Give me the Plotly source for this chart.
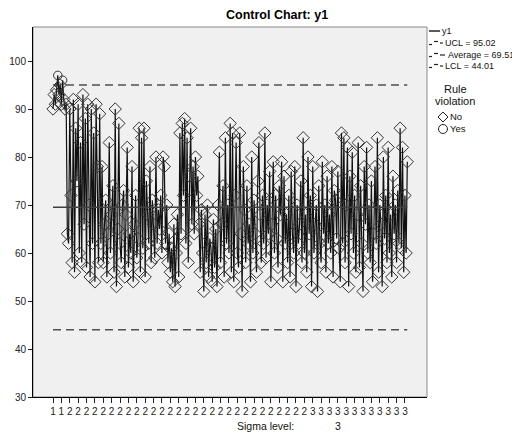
import plotly.graph_objects as go

# ---- data ----
phase1 = [90, 93, 91, 94, 97, 93, 95, 91, 96, 92, 90]
seg_b = [91, 64, 62, 90, 72, 58, 92, 56, 86, 75, 91, 60, 83, 58, 93, 66, 88, 57, 91, 70,
         55, 90, 62, 85, 54, 91, 78, 58, 89]
seg_c = [62, 78, 58, 66, 71, 55, 64, 83, 60, 68, 74, 56, 90, 53, 65, 87, 62, 58, 70, 73,
         55, 68, 82, 57, 64, 60, 78, 54, 66, 72, 59, 63, 86, 56, 84, 61, 86, 55, 75, 68,
         62, 78, 58, 71, 66, 59, 80, 62, 69, 65, 72, 60, 80]
seg_d = [78, 62, 70, 58, 64, 56, 61, 54, 66, 53, 60, 68, 55, 85, 64, 87, 72, 88, 62, 84,
         58, 76, 86, 66, 78, 64, 80, 72, 76]
seg_e = [66, 56, 69, 60, 52, 68, 58, 70, 55, 63, 61, 54, 67, 57, 65, 53, 70]
seg_f = [81, 58, 66, 74, 55, 84, 62, 70, 60, 87, 56, 85, 54, 72, 83, 60, 57, 85, 64, 52,
         78, 69, 58, 74, 62, 66, 54, 80, 60, 71, 64, 56, 75, 83, 68, 58, 72, 62, 85, 59,
         70, 64, 77, 54, 66, 79, 60, 72, 63, 57, 74, 68, 79]
seg_g = [54, 76, 62, 68, 58, 72, 55, 77, 64, 60, 78, 53, 70, 62, 66, 75, 58, 84, 60, 68,
         56, 80, 64, 72, 53, 78, 60, 66, 70, 52, 74, 62, 58, 79, 64, 70, 56, 76, 62, 68,
         60, 78, 55, 73, 71, 63, 77, 61]
seg_h = [54, 85, 62, 84, 58, 70, 82, 53, 76, 64, 81, 60, 72, 56, 68, 83, 57, 74, 62, 52,
         78, 66, 82, 60, 70, 58, 75, 54, 64, 78, 62, 84, 56, 70, 66, 53, 80, 63, 72, 58,
         82, 60, 68, 55, 76, 64, 70, 58, 73, 62, 86, 61, 82, 56, 72, 60, 79]

y1 = phase1 + seg_b + seg_c + seg_d + seg_e + seg_f + seg_g + seg_h
n = len(y1)
x_idx = list(range(1, n + 1))

phase_start_2 = 12
phase_start_3 = 215
phase = [1 if i < phase_start_2 else (2 if i < phase_start_3 else 3) for i in x_idx]

UCL = 95.02
AVG = 69.51
LCL = 44.01
sigma_level = 3

tick_step = 7
tick_vals = [i for i in x_idx if (i - 1) % tick_step == 0]
tick_text = [str(phase[i - 1]) for i in tick_vals]
y_ticks = [30, 40, 50, 60, 70, 80, 90, 100]

# ---- geometry helpers (absolute page pixel -> paper) ----
OFF = 8  # browser body margin
L, R, T, B = 33, 427, 27, 397
W, H = 520, 439
def px(x):
    return (x - L) / (R - L)
def py(y):
    return (B - y) / (B - T)

FONT = "Arial, Liberation Sans, sans-serif"

viol = [v > UCL or v < LCL for v in y1]
xn = [x for x, v in zip(x_idx, viol) if not v]
yn = [y for y, v in zip(y1, viol) if not v]
xy = [x for x, v in zip(x_idx, viol) if v]
yy = [y for y, v in zip(y1, viol) if v]

fig = go.Figure()
fig.add_trace(go.Scatter(x=[1, n], y=[UCL, UCL], mode="lines",
                         line=dict(color="#505050", width=1.5, dash="8px,5px"), showlegend=False))
fig.add_trace(go.Scatter(x=[1, n], y=[LCL, LCL], mode="lines",
                         line=dict(color="#505050", width=1.5, dash="8px,5px"), showlegend=False))
fig.add_trace(go.Scatter(x=x_idx, y=y1, mode="lines",
                         line=dict(color="#111111", width=1.2), showlegend=False))
fig.add_trace(go.Scatter(x=xn, y=yn, mode="markers",
                         marker=dict(symbol="diamond-open", size=9.5, color="#333333",
                                     line=dict(width=1)), showlegend=False))
fig.add_trace(go.Scatter(x=xy, y=yy, mode="markers",
                         marker=dict(symbol="circle-open", size=8.5, color="#333333",
                                     line=dict(width=1)), showlegend=False))
fig.add_trace(go.Scatter(x=[1, n], y=[AVG, AVG], mode="lines",
                         line=dict(color="#404040", width=1.5), showlegend=False))

shapes = []
annotations = []

shapes.append(dict(type="rect", xref="paper", yref="paper", x0=0, x1=1, y0=0, y1=1,
                   line=dict(color="#8a8a8a", width=1), layer="below"))

def seg(x0, x1, y0, y1_, w=1.2, color="#222"):
    shapes.append(dict(type="line", xref="paper", yref="paper",
                       x0=px(x0), x1=px(x1), y0=py(y0), y1=py(y1_),
                       line=dict(color=color, width=w)))

def txt(x, y, s, size=9, anchor="left"):
    annotations.append(dict(x=px(x), y=py(y), xref="paper", yref="paper", text=s,
                            showarrow=False, xanchor=anchor, yanchor="middle",
                            font=dict(family=FONT, size=size, color="#111")))

seg(429, 440, 31, 31, w=1.5)
txt(440, 31, "y1")
rows = [("UCL = %.2f" % UCL, 43, 443), ("Average = %.2f" % AVG, 55, 446), ("LCL = %.2f" % LCL, 66, 443)]
for label, yrow, xt in rows:
    seg(429, 432, yrow + 1.5, yrow + 1.5)
    seg(434, 438, yrow - 1.5, yrow - 1.5)
    seg(440, 443 if xt == 443 else 445, yrow, yrow)
    txt(xt, yrow, label)

txt(455, 89, "Rule", size=11, anchor="center")
txt(455, 101, "violation", size=11, anchor="center")
dx, dy = 443, 117
shapes.append(dict(type="path", xref="paper", yref="paper",
                   path="M %f %f L %f %f L %f %f L %f %f Z" % (
                       px(dx - 5), py(dy), px(dx), py(dy - 5), px(dx + 5), py(dy), px(dx), py(dy + 5)),
                   line=dict(color="#222", width=1)))
txt(448, 117, "No", size=9.5)
cx, cy = 443, 129
shapes.append(dict(type="circle", xref="paper", yref="paper",
                   x0=px(cx - 4.5), x1=px(cx + 4.5), y0=py(cy + 4.5), y1=py(cy - 4.5),
                   line=dict(color="#222", width=1)))
txt(448, 129, "Yes", size=9.5)

annotations.append(dict(x=px(276.5), y=py(15.5), xref="paper", yref="paper",
                        text="<b>Control Chart: y1</b>", showarrow=False,
                        xanchor="center", yanchor="middle",
                        font=dict(family=FONT, size=12.5, color="#000")))
txt(235, 426, "Sigma level:", size=10.5)
txt(333, 426, str(sigma_level), size=10.5)

fig.update_layout(
    width=W - OFF, height=H - OFF,
    margin=dict(l=L - OFF, r=W - R, t=T - OFF, b=H - B, pad=0, autoexpand=False),
    paper_bgcolor="white",
    plot_bgcolor="#f0f0f0",
    shapes=shapes,
    annotations=annotations,
    showlegend=False,
    font=dict(family=FONT, size=10, color="#222"),
)
fig.update_xaxes(range=[1 - 20 / 1.197, 1 + 374 / 1.197], tickmode="array",
                 tickvals=tick_vals, ticktext=tick_text, ticks="outside", ticklen=5,
                 tickcolor="#222", showgrid=False, zeroline=False, showline=True,
                 linecolor="#000", linewidth=1, tickfont=dict(size=10, color="#222"),
                 automargin=False)
fig.update_yaxes(range=[30, 30 + 370 / 4.8], tickmode="array", tickvals=y_ticks,
                 ticks="outside", ticklen=4, tickcolor="#222", showgrid=False,
                 zeroline=False, showline=True, linecolor="#000", linewidth=1,
                 tickfont=dict(size=10, color="#222"), automargin=False)

fig.write_html("out.html")
